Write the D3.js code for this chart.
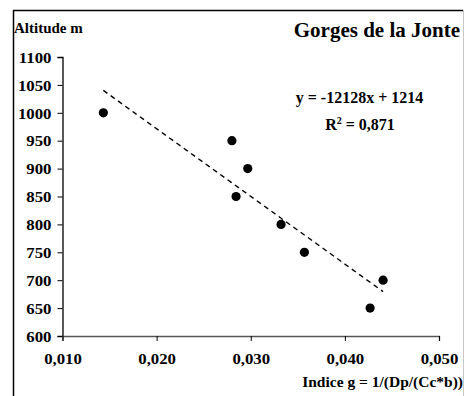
<!DOCTYPE html>
<html>
<head>
<meta charset="utf-8">
<script src="https://cdn.jsdelivr.net/npm/d3@7/dist/d3.min.js"></script>
<style>
  html, body { margin: 0; padding: 0; background: #fff; }
  svg { display: block; }
  svg text { font-family: 'Liberation Serif', 'Times New Roman', Tinos, 'DejaVu Serif', serif !important; font-weight: 700; }
</style>
</head>
<body>
<script>
// Survey points: index g and altitude (m)
const indexG = [0.01434, 0.0280, 0.02968, 0.02844, 0.03322, 0.0357, 0.04406, 0.04268];
const altitude = [1000, 950, 900, 850, 800, 750, 700, 650];

// Linear fit y = slope * x + intercept
const slope = -12128;
const intercept = 1214;
const rSquared = "0,871";

const xTicks = [0.010, 0.020, 0.030, 0.040, 0.050];
const yTicks = [600, 650, 700, 750, 800, 850, 900, 950, 1000, 1050, 1100];

const W = 465, H = 396;
const svg = d3.select("body").append("svg").attr("width", W).attr("height", H);

// Chart frame
svg.append("line").attr("x1", 13.5).attr("x2", 13.5).attr("y1", 10.5).attr("y2", H)
  .attr("stroke", "#000").attr("stroke-width", 1.5);
svg.append("line").attr("x1", 13).attr("x2", 463).attr("y1", 10.5).attr("y2", 10.5)
  .attr("stroke", "#000").attr("stroke-width", 1.3);
svg.append("line").attr("x1", 463.5).attr("x2", 463.5).attr("y1", 10).attr("y2", H)
  .attr("stroke", "#c8c8c8").attr("stroke-width", 1);

const x = d3.scaleLinear().domain([0.010, 0.050]).range([62.5, 439]);
const y = d3.scaleLinear().domain([600, 1100]).range([336, 57]);

const fmtX = d => d3.format(".3f")(d).replace(".", ",");

// Y axis
const yAxis = svg.append("g").attr("transform", "translate(62.5,0)")
  .call(d3.axisLeft(y).tickValues(yTicks).tickSize(5).tickPadding(6).tickFormat(d3.format("d")));
yAxis.select(".domain").attr("stroke", "#000").attr("stroke-width", 1.3);
yAxis.selectAll(".tick line").attr("stroke", "#000").attr("stroke-width", 1);
yAxis.selectAll("text").attr("font-size", 15).attr("fill", "#000")
  .attr("transform", "scale(1.12,1)").attr("x", -11 / 1.12).attr("dy", "0.35em");

// X axis
const xAxis = svg.append("g").attr("transform", "translate(0,336)")
  .call(d3.axisBottom(x).tickValues(xTicks).tickSize(5).tickSizeOuter(5).tickPadding(12).tickFormat(fmtX));
xAxis.select(".domain").attr("stroke", "#555").attr("stroke-width", 1.3);
xAxis.selectAll(".tick line").attr("stroke", "#000").attr("stroke-width", 1);
xAxis.selectAll("text").attr("font-size", 15).attr("fill", "#000")
  .attr("transform", "scale(1.12,1)").attr("dy", "0.71em");

// Trend line across the observed range
const xMin = d3.min(indexG), xMax = d3.max(indexG);
svg.append("line")
  .attr("x1", x(xMin)).attr("y1", y(slope * xMin + intercept))
  .attr("x2", x(xMax)).attr("y2", y(slope * xMax + intercept))
  .attr("stroke", "#000").attr("stroke-width", 1.4).attr("stroke-dasharray", "5,4");

// Points
svg.append("g").selectAll("circle").data(indexG).join("circle")
  .attr("cx", d => x(d)).attr("cy", (d, i) => y(altitude[i]))
  .attr("r", 4.6).attr("fill", "#000");

// Labels
svg.append("text").attr("x", 14).attr("y", 33).attr("font-size", 15).text("Altitude m");
svg.append("text").attr("x", 460).attr("y", 37).attr("text-anchor", "end")
  .attr("font-size", 21).text("Gorges de la Jonte");
svg.append("text").attr("x", 359.5).attr("y", 103).attr("text-anchor", "middle")
  .attr("font-size", 16).text(`y = ${slope}x + ${intercept}`);
const r2 = svg.append("text").attr("x", 360).attr("y", 130).attr("text-anchor", "middle")
  .attr("font-size", 16);
r2.append("tspan").text("R");
r2.append("tspan").attr("dy", -6).attr("font-size", 10).text("2");
r2.append("tspan").attr("dy", 6).text(` = ${rSquared}`);
svg.append("text").attr("x", 463).attr("y", 387).attr("text-anchor", "end")
  .attr("font-size", 15.5).text("Indice g = 1/(Dp/(Cc*b))");
</script>
</body>
</html>
